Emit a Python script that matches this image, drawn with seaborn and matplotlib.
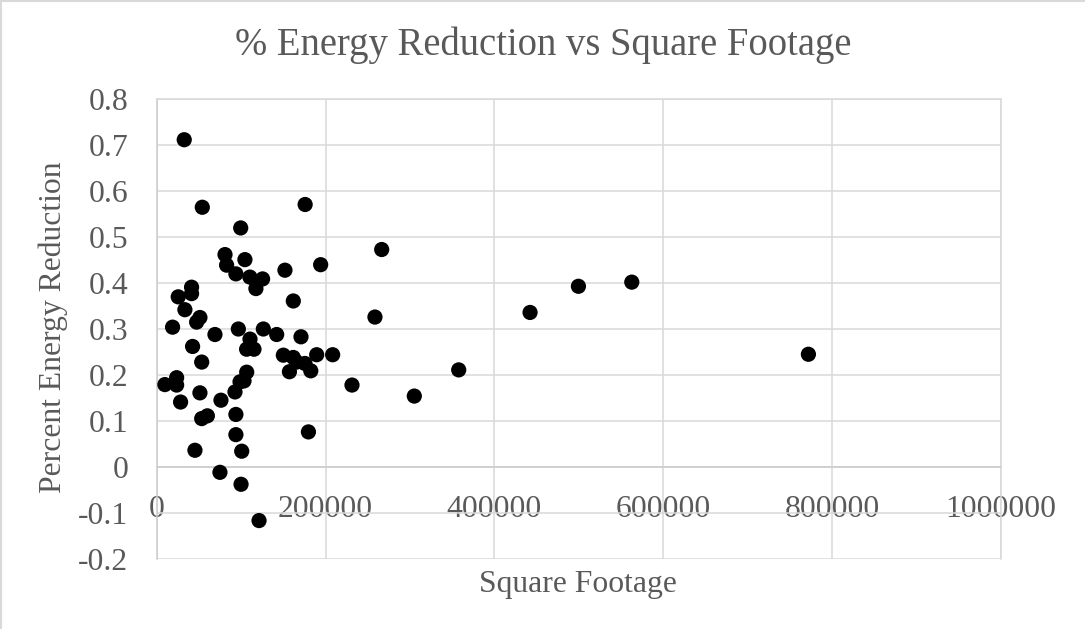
import matplotlib
matplotlib.use("Agg")
import matplotlib.pyplot as plt
import seaborn as sns
import pandas as pd
from matplotlib.patches import Rectangle

square_footage = [32600, 54000, 99500, 175800, 80900, 104500, 82800, 93800, 110400, 125400,
                  117500, 151900, 194200, 266500, 161800, 258500, 442200, 499500, 562700, 771900,
                  231300, 305100, 357700, 41300, 41300, 25500, 33400, 51200, 47300, 18800,
                  69000, 96700, 126300, 142100, 170900, 110500, 42500, 106500, 115200, 53300,
                  150000, 161800, 165800, 175600, 189500, 208400, 157200, 182500, 106600, 98700,
                  103400, 92700, 9700, 23600, 23600, 28300, 51200, 76100, 53300, 60000,
                  93800, 93800, 45300, 100700, 74900, 99900, 121200, 179700]
energy_reduction = [0.712, 0.565, 0.520, 0.571, 0.462, 0.451, 0.439, 0.420, 0.413, 0.409,
                    0.388, 0.428, 0.440, 0.473, 0.361, 0.326, 0.336, 0.393, 0.402, 0.245,
                    0.178, 0.154, 0.211, 0.391, 0.377, 0.370, 0.342, 0.325, 0.315, 0.304,
                    0.288, 0.300, 0.300, 0.288, 0.283, 0.278, 0.262, 0.256, 0.256, 0.228,
                    0.243, 0.238, 0.228, 0.225, 0.244, 0.244, 0.207, 0.209, 0.206, 0.185,
                    0.187, 0.163, 0.179, 0.194, 0.178, 0.141, 0.161, 0.145, 0.105, 0.111,
                    0.114, 0.070, 0.036, 0.034, -0.012, -0.038, -0.117, 0.076]
x_ticks = [0, 200000, 400000, 600000, 800000, 1000000]
y_ticks = [-0.2, -0.1, 0, 0.1, 0.2, 0.3, 0.4, 0.5, 0.6, 0.7, 0.8]
y_tick_labels = ["-0.2", "-0.1", "0", "0.1", "0.2", "0.3", "0.4", "0.5", "0.6", "0.7", "0.8"]
title = "% Energy Reduction vs Square Footage"
x_label = "Square Footage"
y_label = "Percent Energy Reduction"

df = pd.DataFrame({"sqft": square_footage, "red": energy_reduction})

sns.set_style("white")
plt.rcParams["font.family"] = ["Liberation Serif", "DejaVu Serif"]
text_color = "#595959"
grid_color = "#d9d9d9"
fs = 22.8

W, H = 1085, 629
fig = plt.figure(figsize=(W / 100, H / 100), dpi=100)
ax = fig.add_axes([156.7 / W, 1 - 558.7 / H, (1001 - 156.7) / W, (558.7 - 99.3) / H])

sns.scatterplot(data=df, x="sqft", y="red", ax=ax, color="black", s=120,
                edgecolor="none", linewidth=0, zorder=3)

ax.set_xlim(0, 1000000)
ax.set_ylim(-0.2, 0.8)
ax.set_xticks(x_ticks)
ax.set_xticklabels([str(t) for t in x_ticks])
ax.set_yticks(y_ticks)
ax.set_yticklabels(y_tick_labels)
ax.grid(True, color=grid_color, linewidth=1.1, zorder=0)
ax.set_axisbelow(True)

for side in ["top", "right", "left"]:
    ax.spines[side].set_color(grid_color)
    ax.spines[side].set_linewidth(1.1)
ax.spines["bottom"].set_position(("data", 0))
ax.spines["bottom"].set_color("#cccccc")
ax.spines["bottom"].set_linewidth(1.1)
ax.spines["left"].set_color("#cccccc")

ax.tick_params(axis="both", length=0, labelsize=fs, labelcolor=text_color)
ax.tick_params(axis="y", pad=20.5)
ax.tick_params(axis="x", pad=20)

ax.set_xlabel("")
ax.set_ylabel("")
fig.text(578.3 / W, 1 - 591.7 / H, x_label, ha="center", va="baseline",
         fontsize=fs, color=text_color)
fig.text(53 / W, 1 - 327.5 / H, y_label, ha="center", va="center", rotation=90,
         fontsize=fs, color=text_color)
fig.text(543.5 / W, 1 - 55 / H, title, ha="center", va="baseline", fontsize=27.8,
         color=text_color)

fig.patches.append(Rectangle((1 / W, -0.1), 1.2, 1.1 - 1 / H, transform=fig.transFigure,
                             fill=False, edgecolor=grid_color, linewidth=1.5))

fig.savefig("out.png", dpi=100)
